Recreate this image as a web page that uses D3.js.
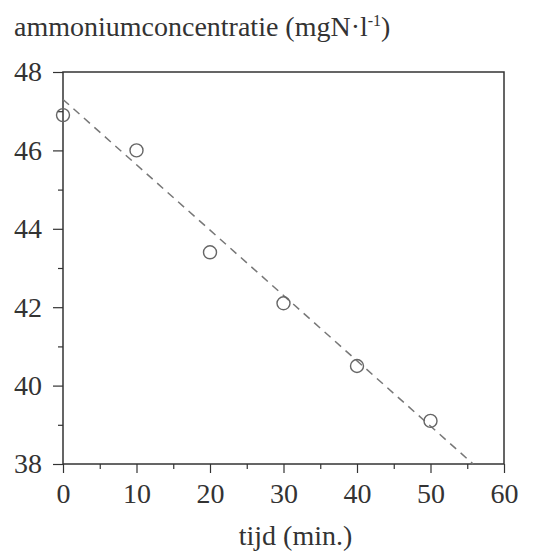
<!DOCTYPE html>
<html><head><meta charset="utf-8">
<script src="https://cdn.jsdelivr.net/npm/d3@7"></script>
<style>body{margin:0;background:#fff} text{font-family:'Liberation Serif','Times New Roman',serif}</style>
</head><body>
<script>
const times = [0, 10, 20, 30, 40, 50];
const concentrations = [46.9, 46.0, 43.4, 42.1, 40.5, 39.1];
const fitLineX = [0, 55.8];
const fitLineY = [47.3, 38];
const xTicks = [0, 10, 20, 30, 40, 50, 60];
const yTicks = [38, 40, 42, 44, 46, 48];

const W = 537, H = 554;
const m = {left: 63, right: 33, top: 72, bottom: 90};
const FONT = "'Liberation Serif', 'Times New Roman', serif";
const svg = d3.select("body").append("svg").attr("width", W).attr("height", H)
  .attr("font-family", FONT);

const x = d3.scaleLinear().domain([0, 60]).range([m.left, W - m.right]);
const y = d3.scaleLinear().domain([38, 48]).range([H - m.bottom, m.top]);
const ink = "#333";

// frame
svg.append("rect").attr("x", x(0)).attr("y", y(48)).attr("width", x(60) - x(0)).attr("height", y(38) - y(48))
  .attr("fill", "none").attr("stroke", ink).attr("stroke-width", 1.5);

// x axis
const gx = svg.append("g").attr("transform", `translate(0,${y(38)})`)
  .call(d3.axisBottom(x).tickValues(xTicks).tickSize(9).tickPadding(10));
gx.append("g").call(d3.axisBottom(x).tickValues(d3.range(5, 60, 10)).tickSize(5).tickFormat(""));
// y axis
const gy = svg.append("g").attr("transform", `translate(${x(0)},0)`)
  .call(d3.axisLeft(y).tickValues(yTicks).tickSize(10).tickPadding(11));
gy.append("g").call(d3.axisLeft(y).tickValues(d3.range(39, 48, 2)).tickSize(5).tickFormat(""));

[gx, gy].forEach(g => g.attr("font-family", FONT).attr("font-size", 28));
svg.selectAll(".domain").remove();
svg.selectAll(".tick line").attr("stroke", ink).attr("stroke-width", 1.2);
svg.selectAll(".tick text").attr("fill", ink);

// fit line
svg.append("line")
  .attr("x1", x(fitLineX[0])).attr("y1", y(fitLineY[0]))
  .attr("x2", x(fitLineX[1])).attr("y2", y(fitLineY[1]))
  .attr("stroke", "#777").attr("stroke-width", 1.5).attr("stroke-dasharray", "8,6");

// points
svg.selectAll("circle.pt").data(times).join("circle").attr("class", "pt")
  .attr("cx", (d) => x(d)).attr("cy", (d, i) => y(concentrations[i])).attr("r", 6.5)
  .attr("fill", "none").attr("stroke", "#666").attr("stroke-width", 1.4);

// titles
const t = svg.append("text").attr("x", 14).attr("y", 36).attr("fill", ink).attr("font-size", 28);
t.append("tspan").text("ammoniumconcentratie (mgN·l");
t.append("tspan").attr("dy", -10).attr("font-size", 16).text("-1");
t.append("tspan").attr("dy", 10).text(")");

svg.append("text").attr("x", (x(0) + x(60)) / 2 + 12).attr("y", 545).attr("text-anchor", "middle")
  .attr("fill", ink).attr("font-size", 28).text("tijd (min.)");
</script>
</body></html>
